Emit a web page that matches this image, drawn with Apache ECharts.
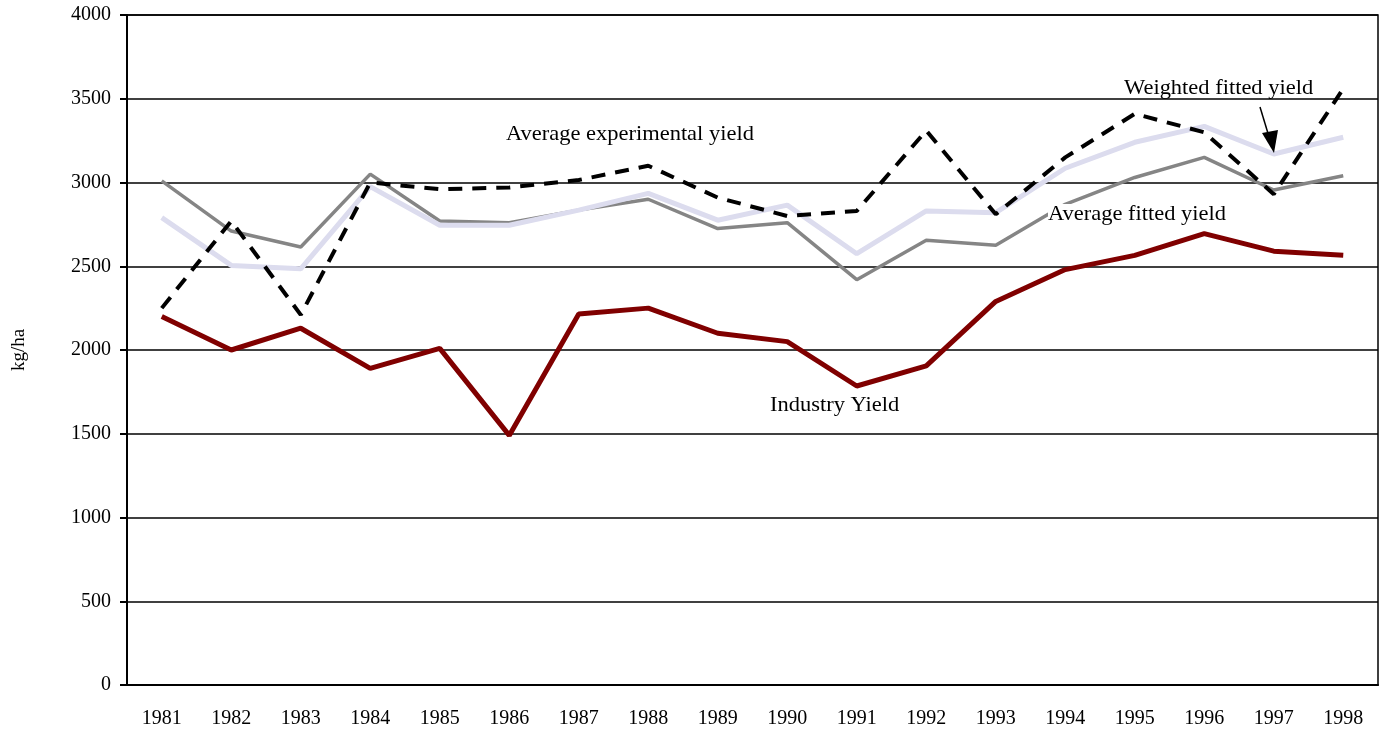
<!DOCTYPE html>
<html>
<head>
<meta charset="utf-8">
<script src="https://cdn.jsdelivr.net/npm/echarts@6/dist/echarts.min.js"></script>
<style>
  html, body { margin: 0; padding: 0; background: #fff; }
  #chart { width: 1389px; height: 737px; }
</style>
</head>
<body>
<div id="chart"></div>
<script>
// years on the x axis
var years = ['1981', '1982', '1983', '1984', '1985', '1986', '1987', '1988', '1989',
  '1990', '1991', '1992', '1993', '1994', '1995', '1996', '1997', '1998'];

// yields, kg/ha
var industryYield = [2200, 2000, 2130, 1890, 2010, 1490, 2215, 2250, 2100,
  2050, 1785, 1905, 2290, 2480, 2565, 2695, 2590, 2565];
var avgFitted = [3010, 2710, 2615, 3050, 2770, 2760, 2835, 2900, 2725,
  2760, 2420, 2655, 2625, 2870, 3030, 3150, 2955, 3040];
var weightedFitted = [2790, 2505, 2485, 2975, 2745, 2745, 2835, 2935, 2775,
  2865, 2575, 2830, 2820, 3085, 3240, 3335, 3170, 3270];
var avgExperimental = [2250, 2770, 2210, 3000, 2960, 2970, 3015, 3100, 2910,
  2800, 2830, 3310, 2810, 3150, 3410, 3300, 2930, 3560];

var serif = '"Liberation Serif", "DejaVu Serif", serif';

var chart = echarts.init(document.getElementById('chart'), null, { renderer: 'canvas' });

// annotation text, slightly stretched like the original
function note(txt, x, y, bg) {
  return {
    type: 'text', x: x, y: y, z: 10, scaleX: 1.07,
    style: { text: txt, font: '21px ' + serif, fill: '#000', backgroundColor: bg || null }
  };
}

chart.setOption({
  animation: false,
  grid: {
    left: 127, right: 11, top: 15, bottom: 52,
    show: true, borderColor: '#000', borderWidth: 1.5
  },
  xAxis: {
    type: 'category',
    data: years,
    boundaryGap: true,
    axisLine: { lineStyle: { color: '#000', width: 2 } },
    axisTick: { length: 8, lineStyle: { color: '#000', width: 2 } },
    axisLabel: { color: '#000', fontFamily: serif, fontSize: 20, margin: 24 },
    splitLine: { show: false }
  },
  yAxis: {
    type: 'value',
    min: 0, max: 4000, interval: 500,
    name: 'kg/ha',
    nameLocation: 'middle',
    nameGap: 98,
    nameTextStyle: { color: '#000', fontFamily: serif, fontSize: 19 },
    axisLine: { show: true, lineStyle: { color: '#000', width: 2 } },
    axisTick: { show: true, length: 7, lineStyle: { color: '#000', width: 2 } },
    axisLabel: {
      color: '#000', fontFamily: serif, fontSize: 20, margin: 16,
      formatter: function (v) { return String(v); }
    },
    splitLine: { lineStyle: { color: '#000', width: 1.5 } }
  },
  series: [
    {
      name: 'Average fitted yield',
      type: 'line',
      data: avgFitted,
      symbol: 'none',
      lineStyle: { color: '#858585', width: 3.5 },
      z: 2
    },
    {
      name: 'Weighted fitted yield',
      type: 'line',
      data: weightedFitted,
      symbol: 'none',
      lineStyle: { color: '#dcdcee', width: 5 },
      z: 3
    },
    {
      name: 'Average experimental yield',
      type: 'line',
      data: avgExperimental,
      symbol: 'none',
      lineStyle: { color: '#000', width: 4, type: [14, 10] },
      z: 4
    },
    {
      name: 'Industry Yield',
      type: 'line',
      data: industryYield,
      symbol: 'none',
      lineStyle: { color: '#800000', width: 5 },
      z: 5
    }
  ],
  graphic: [
    note('Average experimental yield', 506, 124),
    note('Industry Yield', 770, 395),
    note('Average fitted yield', 1048, 204, '#fff'),
    note('Weighted fitted yield', 1124, 78),
    { type: 'line', z: 10,
      shape: { x1: 1260, y1: 107, x2: 1270, y2: 140 },
      style: { stroke: '#000', lineWidth: 1.5 } },
    { type: 'polygon', z: 10,
      shape: { points: [[1262, 133], [1278, 130], [1274, 153]] },
      style: { fill: '#000' } }
  ]
});
</script>
</body>
</html>
